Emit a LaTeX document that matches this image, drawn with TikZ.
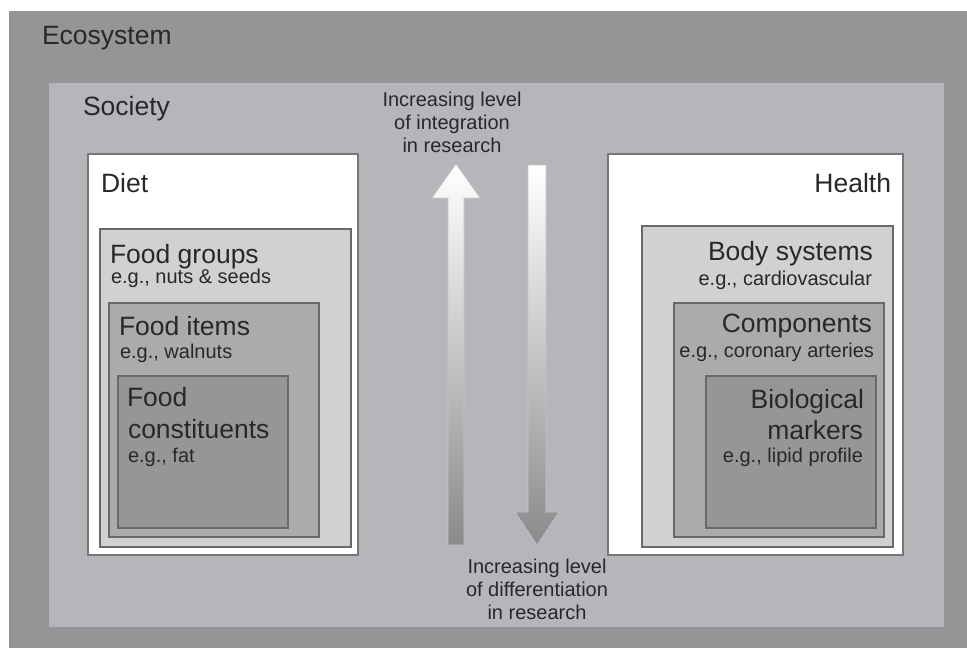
\documentclass[tikz,border=0pt]{standalone}
\usepackage{fontspec}
\setmainfont{Liberation Sans}
\definecolor{eco}{RGB}{148,149,151}
\definecolor{soc}{RGB}{181,182,185}
\definecolor{wborder}{RGB}{118,119,121}
\definecolor{fgfill}{RGB}{208,209,211}
\definecolor{fifill}{RGB}{170,171,173}
\definecolor{fcfill}{RGB}{149,150,152}
\definecolor{ibord}{RGB}{104,105,107}
\definecolor{textc}{RGB}{40,40,42}
\definecolor{arrmid}{RGB}{200,201,203}
\definecolor{arrbot}{RGB}{138,139,141}
\definecolor{arrline}{RGB}{196,197,199}
\begin{document}
\begin{tikzpicture}[x=1pt,y=-1pt,
  whitebox/.style={fill=white,draw=wborder,line width=1.4pt},
  lvlone/.style={fill=fgfill,draw=ibord,line width=1.3pt},
  lvltwo/.style={fill=fifill,draw=ibord,line width=1.3pt},
  lvlthree/.style={fill=fcfill,draw=ibord,line width=1.3pt},
  txt/.style={inner sep=0pt,outer sep=0pt,text=textc},
  head/.style={txt,font=\fontsize{26.5}{31}\selectfont},
  ex/.style={txt,font=\fontsize{20}{23}\selectfont},
  mid/.style={txt,font=\fontsize{20}{23}\selectfont,align=center,anchor=north},
  grad/.style={top color=white,middle color=arrmid,bottom color=arrbot}
]
\useasboundingbox (0,0) rectangle (967,648);
\fill[white] (0,0) rectangle (967,648);
% Ecosystem and Society
\fill[eco] (9,11) rectangle (967,648);
\fill[soc] (49,83) rectangle (944,627);
% Diet side
\draw[whitebox] (88,154) rectangle (358,555);
\draw[lvlone] (100,229) rectangle (351,547);
\draw[lvltwo] (109,303) rectangle (319,537);
\draw[lvlthree] (118,376) rectangle (288,528);
% Health side
\draw[whitebox] (608,154) rectangle (903,555);
\draw[lvlone] (642,226) rectangle (893,547);
\draw[lvltwo] (674,303) rectangle (884,537);
\draw[lvlthree] (706,376) rectangle (876,528);
% Arrows
\shade[grad] (448,545) -- (448,198) -- (432,198) -- (456,164) -- (480,198) -- (464,198) -- (464,545) -- cycle;
\draw[arrline,line width=0.6pt] (448,545) -- (448,198) -- (432,198) -- (456,164) -- (480,198) -- (464,198) -- (464,545) -- cycle;
\shade[grad] (528,165) -- (546,165) -- (546,512) -- (559,512) -- (537,545) -- (515,512) -- (528,512) -- cycle;
\draw[arrline,line width=0.6pt] (528,165) -- (546,165) -- (546,512) -- (559,512) -- (537,545) -- (515,512) -- (528,512) -- cycle;
% Texts
\node[head,anchor=base west] (eco) at (42,44) {Ecosystem};
\node[head,anchor=base west] (soc) at (83,115) {Society};
\node[head,anchor=base west] (diet) at (101,192) {Diet};
\node[head,anchor=base west] (fg) at (110,263) {Food groups};
\node[ex,anchor=base west] (fgex) at (111,283) {e.g., nuts \& seeds};
\node[head,anchor=base west] (fi) at (119,335) {Food items};
\node[ex,anchor=base west] (fiex) at (120,358) {e.g., walnuts};
\node[head,anchor=base west] (fc1) at (127,406) {Food};
\node[head,anchor=base west] (fc2) at (128,438) {constituents};
\node[ex,anchor=base west] (fcex) at (128,462) {e.g., fat};
\node[head,anchor=base east] (health) at (891,192) {Health};
\node[head,anchor=base east] (bs) at (873,260) {Body systems};
\node[ex,anchor=base east] (bsex) at (872,285) {e.g., cardiovascular};
\node[head,anchor=base east] (comp) at (872,332) {Components};
\node[ex,anchor=base east] (compex) at (874,357) {e.g., coronary arteries};
\node[head,anchor=base east] (bm1) at (864,408) {Biological};
\node[head,anchor=base east] (bm2) at (863,439) {markers};
\node[ex,anchor=base east] (bmex) at (863,462) {e.g., lipid profile};
\node[mid] (integ) at (452,91.7) {Increasing level\\of integration\\in research};
\node[mid] (diff) at (537,558.7) {Increasing level\\of differentiation\\in research};
\end{tikzpicture}
\end{document}
